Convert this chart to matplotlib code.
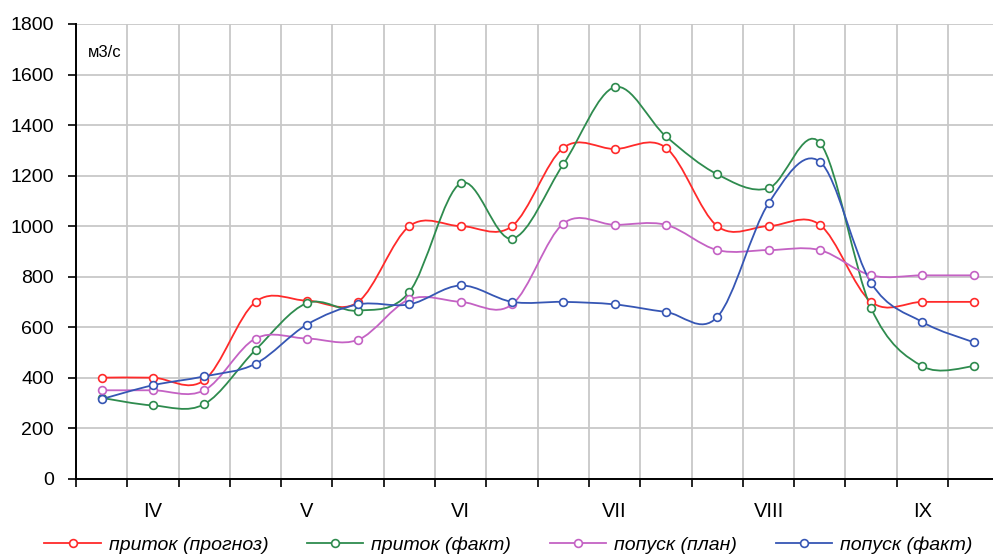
import numpy as np
import matplotlib.pyplot as plt
from matplotlib.path import Path
from matplotlib.patches import PathPatch
from matplotlib.lines import Line2D

# decades (3 per month), months IV..IX
months = ['IV', 'V', 'VI', 'VII', 'VIII', 'IX']
inflow_forecast = [400, 400, 390, 700, 705, 700, 1000, 1000, 1000,
                   1310, 1305, 1310, 1000, 1000, 1005, 700, 700, 700]
inflow_actual = [320, 290, 295, 510, 695, 665, 740, 1170, 950,
                 1245, 1550, 1355, 1205, 1150, 1330, 675, 445, 445]
release_plan = [350, 350, 350, 555, 555, 550, 710, 700, 690,
                1010, 1005, 1005, 905, 905, 905, 805, 805, 805]
release_actual = [315, 370, 405, 455, 610, 690, 690, 765, 700,
                  700, 690, 660, 640, 1090, 1255, 775, 620, 540]

labels = ['приток (прогноз)', 'приток (факт)', 'попуск (план)', 'попуск (факт)']
colors = ['#ff2a2a', '#2e8b4e', '#c462c4', '#3656b4']
series = [inflow_forecast, inflow_actual, release_plan, release_actual]

plt.rcParams['font.family'] = ['Liberation Sans', 'DejaVu Sans']


def smooth_path(xs, ys):
    """Excel-like smoothed line: Catmull-Rom converted to cubic Bezier segments."""
    pts = np.column_stack([xs, ys]).astype(float)
    n = len(pts)
    verts = [pts[0]]
    codes = [Path.MOVETO]
    for i in range(n - 1):
        p0 = pts[max(i - 1, 0)]
        p1 = pts[i]
        p2 = pts[i + 1]
        p3 = pts[min(i + 2, n - 1)]
        c1 = p1 + (p2 - p0) / 6.0
        c2 = p2 - (p3 - p1) / 6.0
        verts += [c1, c2, p2]
        codes += [Path.CURVE4] * 3
    return Path(verts, codes)


fig = plt.figure(figsize=(9.93, 5.59), dpi=100)
ax = fig.add_axes([76 / 993, 80.3 / 559, 923.4 / 993, 454.7 / 559])

x = np.arange(len(inflow_forecast))
for vals, col in zip(series, colors):
    ax.add_patch(PathPatch(smooth_path(x, vals), fill=False, edgecolor=col,
                           linewidth=1.3, zorder=3))
    ax.plot(x, vals, linestyle='none', marker='o', markersize=5.6,
            markerfacecolor='white', markeredgecolor=col, markeredgewidth=1.2,
            zorder=4)

ax.set_xlim(-0.5, 17.5)
ax.set_ylim(0, 1800)
ax.set_yticks(np.arange(0, 1801, 200))
ax.set_xticks(np.arange(1, 18, 3))
ax.set_xticklabels(months)
ax.set_xticks(np.arange(-0.5, 18, 1), minor=True)

ax.tick_params(axis='y', length=6, width=1.2, pad=10, labelsize=14)
ax.tick_params(axis='x', which='major', length=0, pad=17, labelsize=14.5)
ax.tick_params(axis='x', which='minor', length=6, width=1.2)

ax.grid(True, axis='y', which='major', color='#c8c8c8', linewidth=1.3)
ax.grid(True, axis='x', which='minor', color='#c8c8c8', linewidth=1.3)
ax.set_axisbelow(True)

for side in ['top', 'right']:
    ax.spines[side].set_visible(False)
for side in ['left', 'bottom']:
    ax.spines[side].set_linewidth(1.4)
    ax.spines[side].set_color('black')

ax.text(0.013, 0.938, 'м3/с', transform=ax.transAxes, fontsize=12,
        ha='left', va='center')

handles = [Line2D([], [], color=c, linewidth=1.3, marker='o', markersize=5.6,
                  markerfacecolor='white', markeredgecolor=c,
                  markeredgewidth=1.2) for c in colors]
fig.legend(handles, labels, loc='center', bbox_to_anchor=(0.512, 0.025),
           ncol=4, frameon=False, handlelength=2.9, handletextpad=0.4,
           columnspacing=2.0, borderaxespad=0,
           prop={'family': 'Liberation Sans', 'style': 'italic', 'size': 14})

fig.savefig('out.png', dpi=100)
